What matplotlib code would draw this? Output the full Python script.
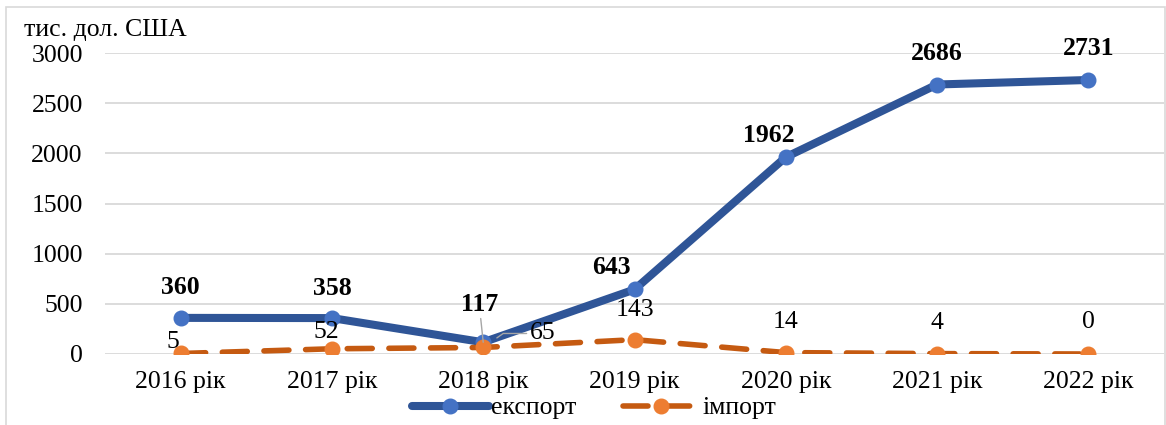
import matplotlib.pyplot as plt
from matplotlib.patches import Rectangle

plt.rcParams["font.family"] = ["Liberation Serif", "DejaVu Serif"]

years = ["2016 рік", "2017 рік", "2018 рік", "2019 рік", "2020 рік", "2021 рік", "2022 рік"]
export = [360, 358, 117, 643, 1962, 2686, 2731]
imports = [5, 52, 65, 143, 14, 4, 0]

# label offsets in pixels (dx, dy)
export_off = [(0, 30), (0, 30), (-4, 38), (-23, 22), (-17, 22), (0, 31), (0, 31)]
import_off = [(-8, 11), (-6, 17), (59, 14), (0, 30), (0, 31), (0, 31), (0, 32)]

FS = 18.5

fig = plt.figure(figsize=(11.66, 4.25), dpi=100)
ax = fig.add_axes([105 / 1166, 1 - 354 / 425, 1 - 105 / 1166 - 2 / 1166, (354 - 53) / 425])

x = list(range(len(years)))
ax.plot(x, export, color="#2F5597", lw=5.8, marker="o", ms=10.5,
        mfc="#4472C4", mec="#4472C4", label="експорт", solid_capstyle="round", zorder=3)
ax.plot(x, imports, color="#C55A11", lw=4, marker="o", ms=10.5, dashes=(4.5, 3),
        mfc="#ED7D31", mec="#ED7D31", label="імпорт", dash_capstyle="round", zorder=3)

px = 72 / 100
for i, v in enumerate(export):
    dx, dy = export_off[i]
    kw = {}
    if i == 2:
        kw = dict(arrowprops=dict(arrowstyle="-", color="#A6A6A6", lw=1, shrinkA=0, shrinkB=0))
    ax.annotate(str(v), (i, v), xytext=(dx * px, dy * px), textcoords="offset points",
                ha="center", va="center", fontsize=FS, fontweight="bold", zorder=5, **kw)

for i, v in enumerate(imports):
    dx, dy = import_off[i]
    kw = {}
    if i == 2:
        kw = dict(arrowprops=dict(arrowstyle="-", color="#A6A6A6", lw=1, shrinkA=0, shrinkB=12,
                                  connectionstyle="angle,angleA=0,angleB=35,rad=0"))
    ax.annotate(str(v), (i, v), xytext=(dx * px, dy * px), textcoords="offset points",
                ha="center", va="center", fontsize=FS, zorder=5, **kw)

ax.set_xlim(-0.5, 6.5)
ax.set_ylim(0, 3000)
ax.set_yticks(range(0, 3001, 500))
ax.set_xticks(x)
ax.set_xticklabels(years)
ax.tick_params(axis="both", length=0, labelsize=FS)
ax.tick_params(axis="y", pad=16)
ax.tick_params(axis="x", pad=12)
ax.grid(axis="y", color="#D9D9D9", lw=1.3)
ax.set_axisbelow(True)
for s in ax.spines.values():
    s.set_visible(False)

fig.text(24 / 1166, 1 - 30 / 425, "тис. дол. США", fontsize=FS, ha="left", va="center")

fig.legend(loc="center", bbox_to_anchor=(594 / 1166, 1 - 408 / 425), ncol=2, frameon=False,
           fontsize=FS, handlelength=3.0, handletextpad=0.1, columnspacing=1.8, borderpad=0)

fig.patches.append(Rectangle((6 / 1166, -0.01), 1159 / 1166, 1 - 7 / 425 + 0.01,
                             transform=fig.transFigure, fill=False, ec="#D9D9D9", lw=1.2))

fig.savefig("out.png", dpi=100)
